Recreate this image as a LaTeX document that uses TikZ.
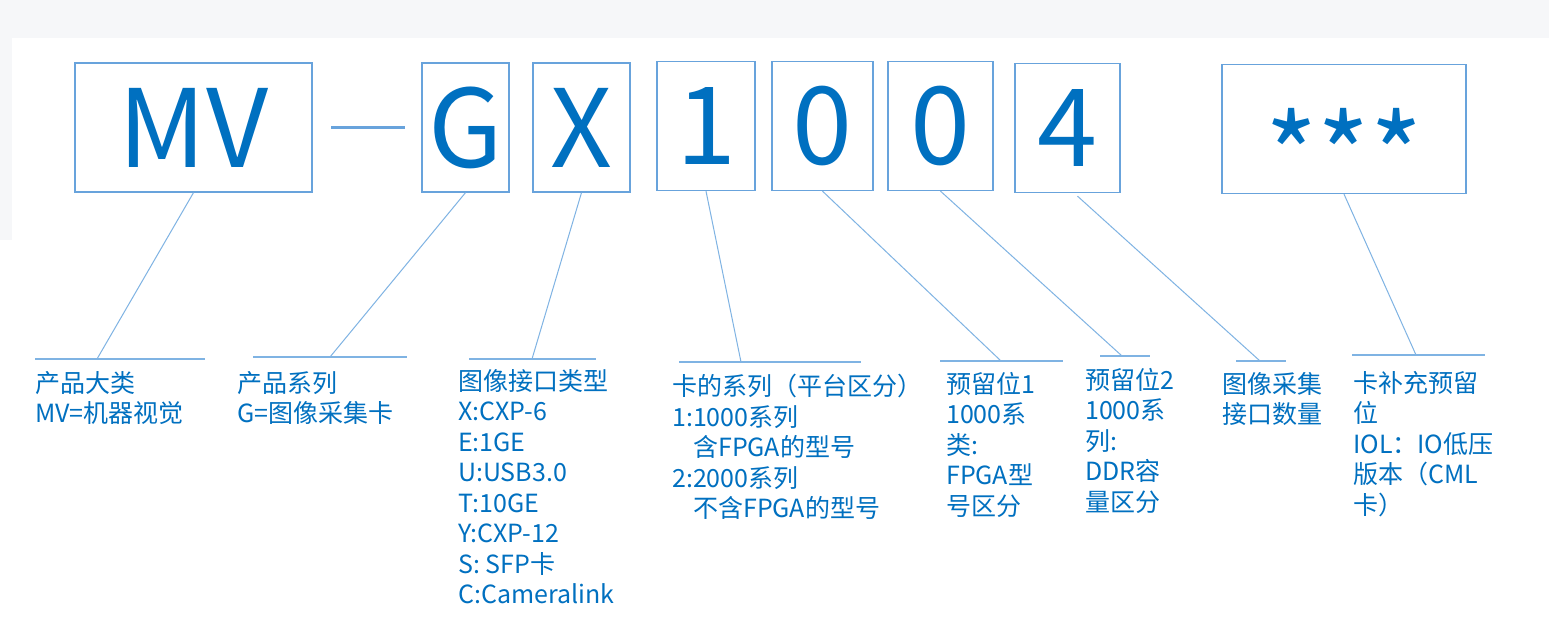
\documentclass[tikz,border=0pt]{standalone}
\usepackage{fontspec}
\setmainfont{Noto Sans CJK SC}
\definecolor{codeblue}{HTML}{0070C0}
\definecolor{boxblue}{HTML}{68A3DC}
\definecolor{lineblue}{HTML}{7FB3E3}
\definecolor{slidegray}{HTML}{F6F7F9}
\begin{document}
\begin{tikzpicture}[x=1pt,y=-1pt,
  codebox/.style={draw=boxblue, line width=1.3pt, inner sep=0pt, minimum height=129pt,
    text=codeblue, font=\fontsize{108}{108}\selectfont},
  leader/.style={draw=lineblue, line width=1pt},
  underline/.style={draw=lineblue, line width=1.6pt},
  note/.style={anchor=north west, inner sep=0pt, align=left, text=codeblue,
    font=\fontsize{25}{30.5}\selectfont}]
\useasboundingbox (0,0) rectangle (1549,616);

% fond de la diapo
\fill[white] (0,0) rectangle (1549,616);
\fill[slidegray] (0,0) rectangle (1549,38);
\fill[slidegray] (0,38) rectangle (12,240);

% cases du code produit
\node[codebox, minimum width=237pt] (bMV) at (193.5,127.5) {MV};
\node[codebox, minimum width=87pt]  (bG)  at (465.5,127.5) {G};
\node[codebox, minimum width=97pt]  (bX)  at (581.5,127.5) {X};
\node[codebox, minimum width=98pt]  (b1)  at (706,126) {1};
\node[codebox, minimum width=101pt] (b0a) at (822.5,126) {0};
\node[codebox, minimum width=105pt] (b0b) at (940.5,126) {0};
\node[codebox, minimum width=105pt] (b4)  at (1067.5,128) {4};
\node[codebox, minimum width=244pt] (bStar) at (1344,129) {};
\node[text=codeblue, inner sep=0pt, font=\fontsize{112}{112}\selectfont]
  (tStar) at ([yshift=-24pt]bStar.center) {***};

% tiret entre MV et G
\coordinate (dashL) at (331,127);
\coordinate (dashR) at (405,127);
\draw[boxblue, line width=3pt] (dashL) -- (dashR);

% traits de rappel + soulignement
\foreach \b/\ux/\l/\r/\uy in {bMV/97/35/205/359, bG/330/253/407/357,
  bX/532/469/596/359, b1/741/679/861/362, b0a/1001/940/1063/361,
  b0b/1122/1100/1150/356, bStar/1416/1352/1485/355} {
  \coordinate (u\b) at (\ux,\uy);
  \draw[leader] (\b.south) -- (u\b);
  \draw[underline] (\l,\uy) -- (\r,\uy);
}
\coordinate (ub4) at (1260,361);
\draw[leader] ([xshift=10pt,yshift=-3pt]b4.south) -- (ub4);
\draw[underline] (1236,361) -- (1286,361);

% textes explicatifs
\node[note] (tMV) at (35,371) {产品大类\\MV=机器视觉};
\node[note] (tG) at (237,371) {产品系列\\G=图像采集卡};
\node[note] (tX) at (458,369) {图像接口类型\\X:CXP-6\\E:1GE\\U:USB3.0\\T:10GE\\Y:CXP-12\\S: SFP卡\\C:Cameralink};
\node[note] (t1) at (672,374) {卡的系列（平台区分）\\1:1000系列\\\hspace*{21pt}含FPGA的型号\\2:2000系列\\\hspace*{21pt}不含FPGA的型号};
\node[note] (t0a) at (946,372) {预留位1\\1000系\\类:\\FPGA型\\号区分};
\node[note] (t0b) at (1085,368) {预留位2\\1000系\\列:\\DDR容\\量区分};
\node[note] (t4) at (1222,372) {图像采集\\接口数量};
\node[note] (tStarNote) at (1353,371) {卡补充预留\\位\\IOL：IO低压\\版本（CML\\卡）};
\end{tikzpicture}
\end{document}
